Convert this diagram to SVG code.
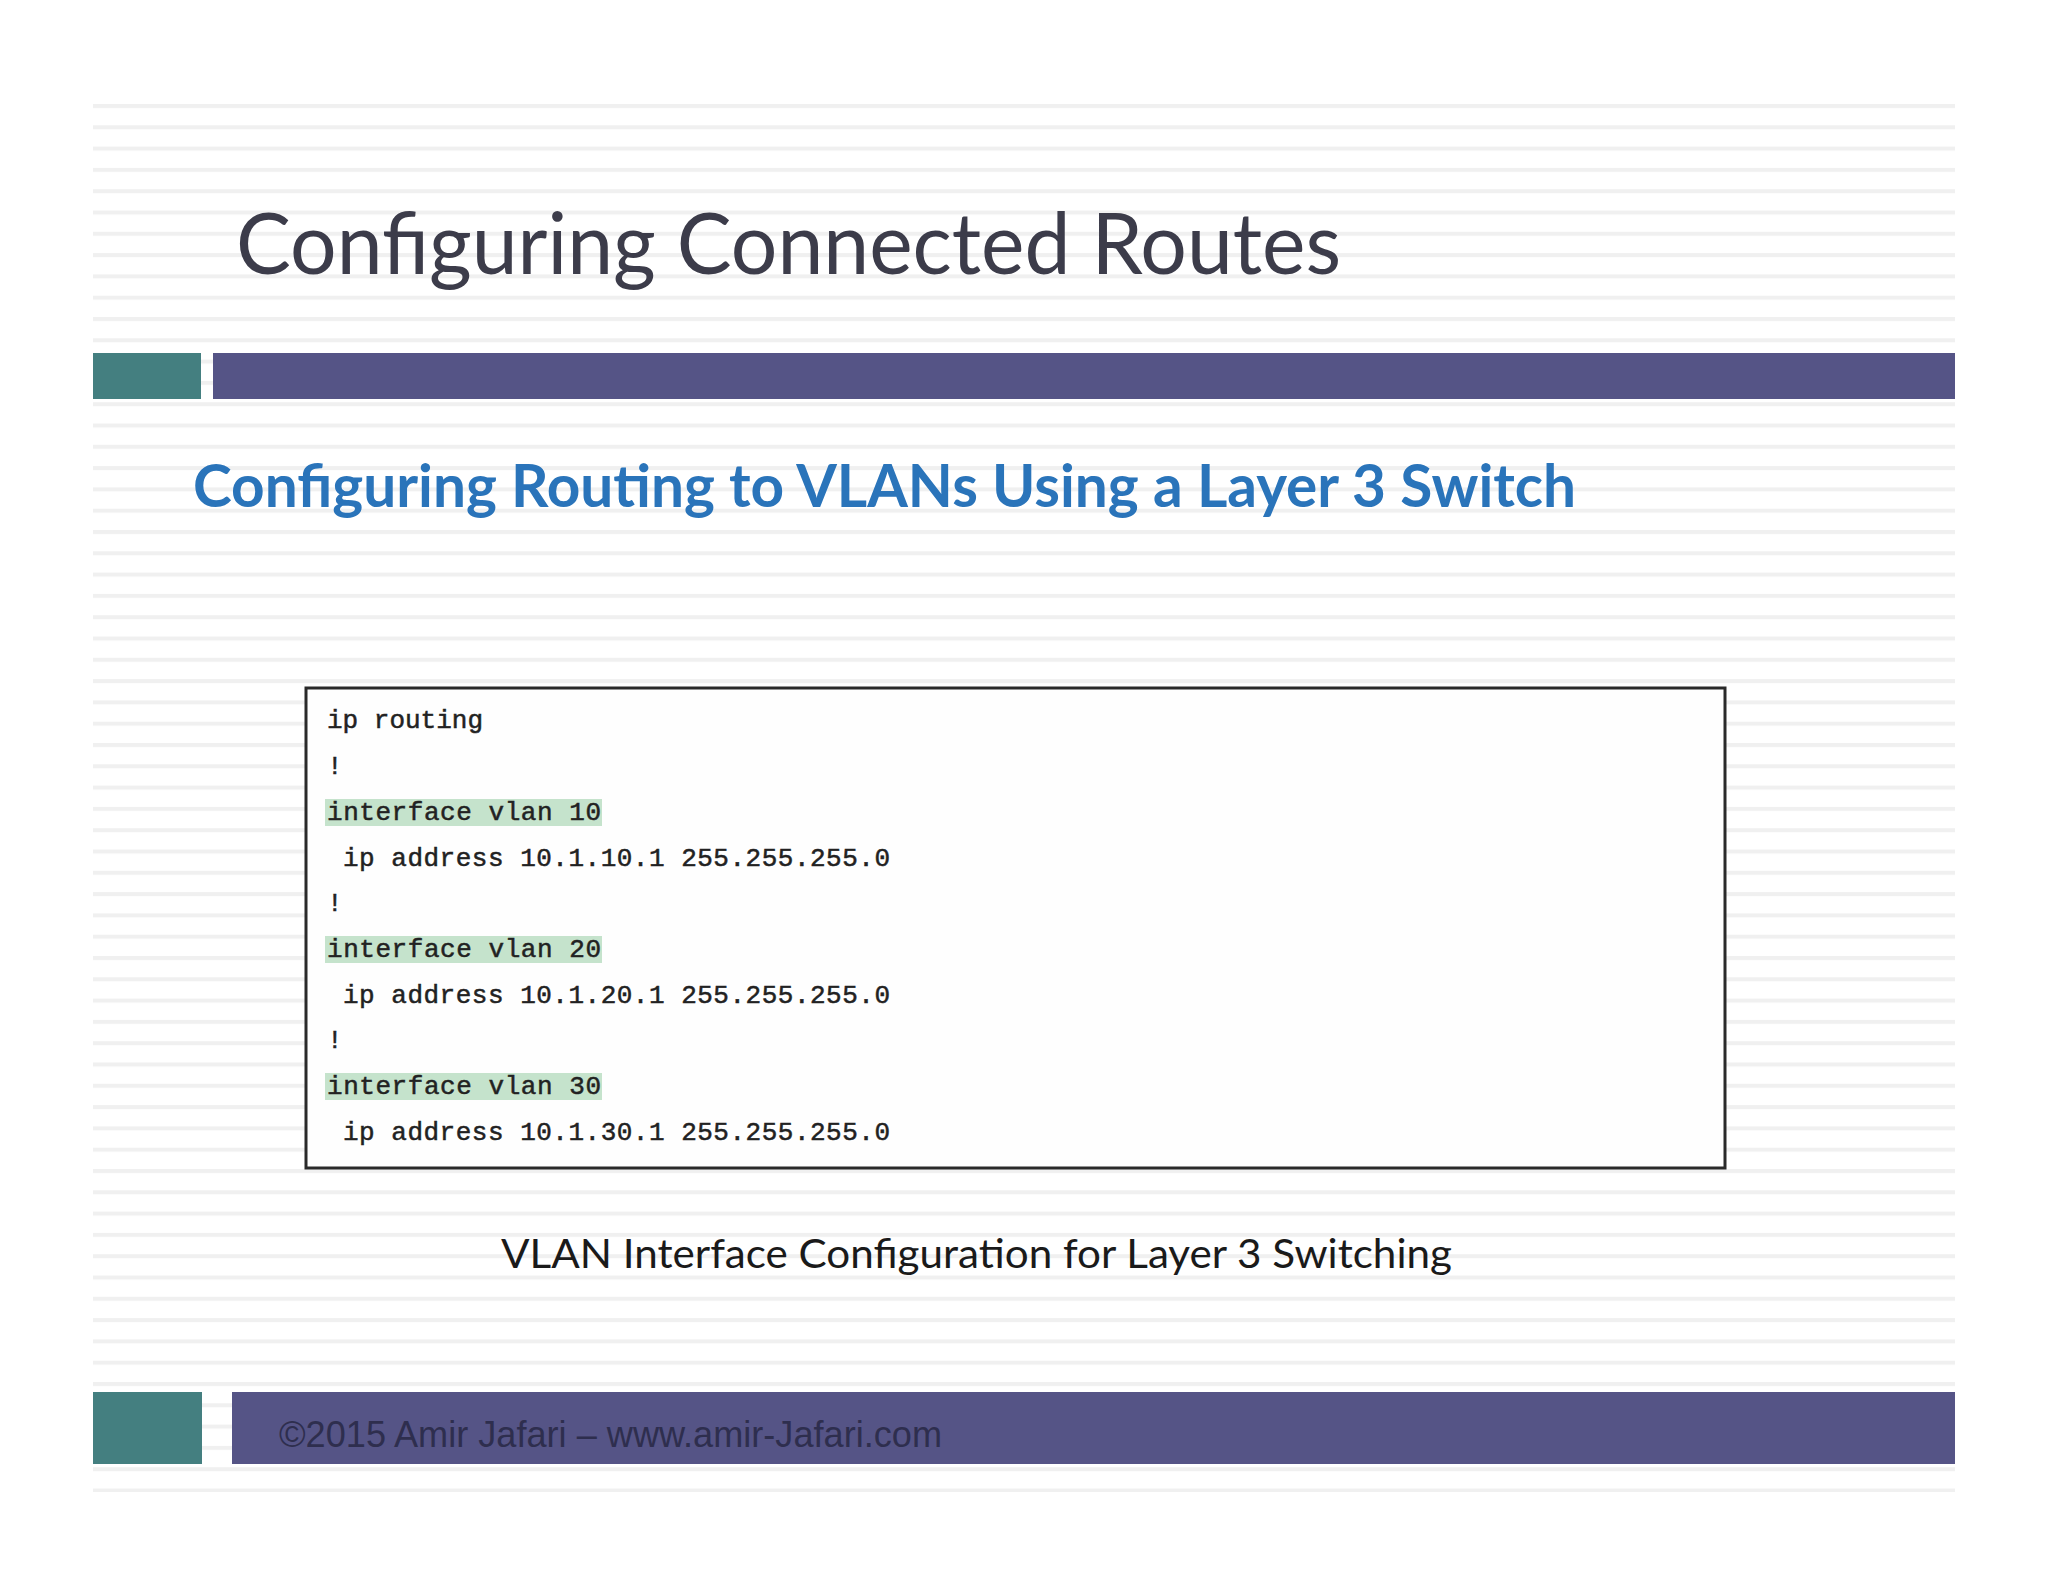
<svg xmlns="http://www.w3.org/2000/svg" width="2048" height="1582" viewBox="0 0 2048 1582">
<defs>
<pattern id="stripes" x="0" y="104" width="10" height="21.3" patternUnits="userSpaceOnUse">
<rect x="0" y="0" width="10" height="4" fill="#f0f0f0"/>
</pattern>
<style>
.code{font-family:"Liberation Mono","Courier New",monospace;font-size:26px;fill:#222;stroke:#222;stroke-width:0.5}
.hl{fill:#c5e3cc}
</style>
</defs>
<rect width="2048" height="1582" fill="#ffffff"/>
<rect x="93" y="104" width="1862" height="1388" fill="url(#stripes)"/>
<g id="title"><text x="236" y="274" font-family="Lato, 'DejaVu Sans', sans-serif" font-size="86" fill="#3c3c4a" textLength="1105" lengthAdjust="spacingAndGlyphs">Configuring Connected Routes</text></g>
<g id="header-bar"><rect x="93" y="353" width="108" height="46" fill="#447f80"/><rect x="213" y="353" width="1742" height="46" fill="#555486"/></g>
<g id="subtitle"><text x="193" y="507" font-family="Lato, 'DejaVu Sans', sans-serif" font-weight="bold" font-size="60" fill="#2a74ba" textLength="1383" lengthAdjust="spacingAndGlyphs">Configuring Routing to VLANs Using a Layer 3 Switch</text></g>
<g id="code-box">
<rect x="306" y="688" width="1419" height="480" fill="#fefefe" stroke="#2a2a2a" stroke-width="3"/>
<rect class="hl" x="325" y="799" width="277" height="27"/>
<rect class="hl" x="325" y="936" width="277" height="27"/>
<rect class="hl" x="325" y="1073" width="277" height="27"/>
<text class="code" x="327" y="728">ip routing</text>
<text class="code" x="327" y="774">!</text>
<text class="code" x="327" y="820" textLength="274">interface vlan 10</text>
<text class="code" x="343" y="866" textLength="547">ip address 10.1.10.1 255.255.255.0</text>
<text class="code" x="327" y="911">!</text>
<text class="code" x="327" y="957" textLength="274">interface vlan 20</text>
<text class="code" x="343" y="1003" textLength="547">ip address 10.1.20.1 255.255.255.0</text>
<text class="code" x="327" y="1048">!</text>
<text class="code" x="327" y="1094" textLength="274">interface vlan 30</text>
<text class="code" x="343" y="1140" textLength="547">ip address 10.1.30.1 255.255.255.0</text>
</g>
<g id="caption"><text x="501" y="1268" font-family="Lato, 'DejaVu Sans', sans-serif" font-size="40" fill="#1a1a1a" textLength="951" lengthAdjust="spacingAndGlyphs">VLAN Interface Configuration for Layer 3 Switching</text></g>
<g id="footer"><rect x="93" y="1392" width="109" height="72" fill="#447f80"/><rect x="232" y="1392" width="1723" height="72" fill="#555486"/>
<text x="279" y="1447" font-family="'Liberation Sans', Arial, sans-serif" font-size="36" fill="#2e2e4e" textLength="663" lengthAdjust="spacingAndGlyphs">©2015 Amir Jafari – www.amir-Jafari.com</text></g>
</svg>
